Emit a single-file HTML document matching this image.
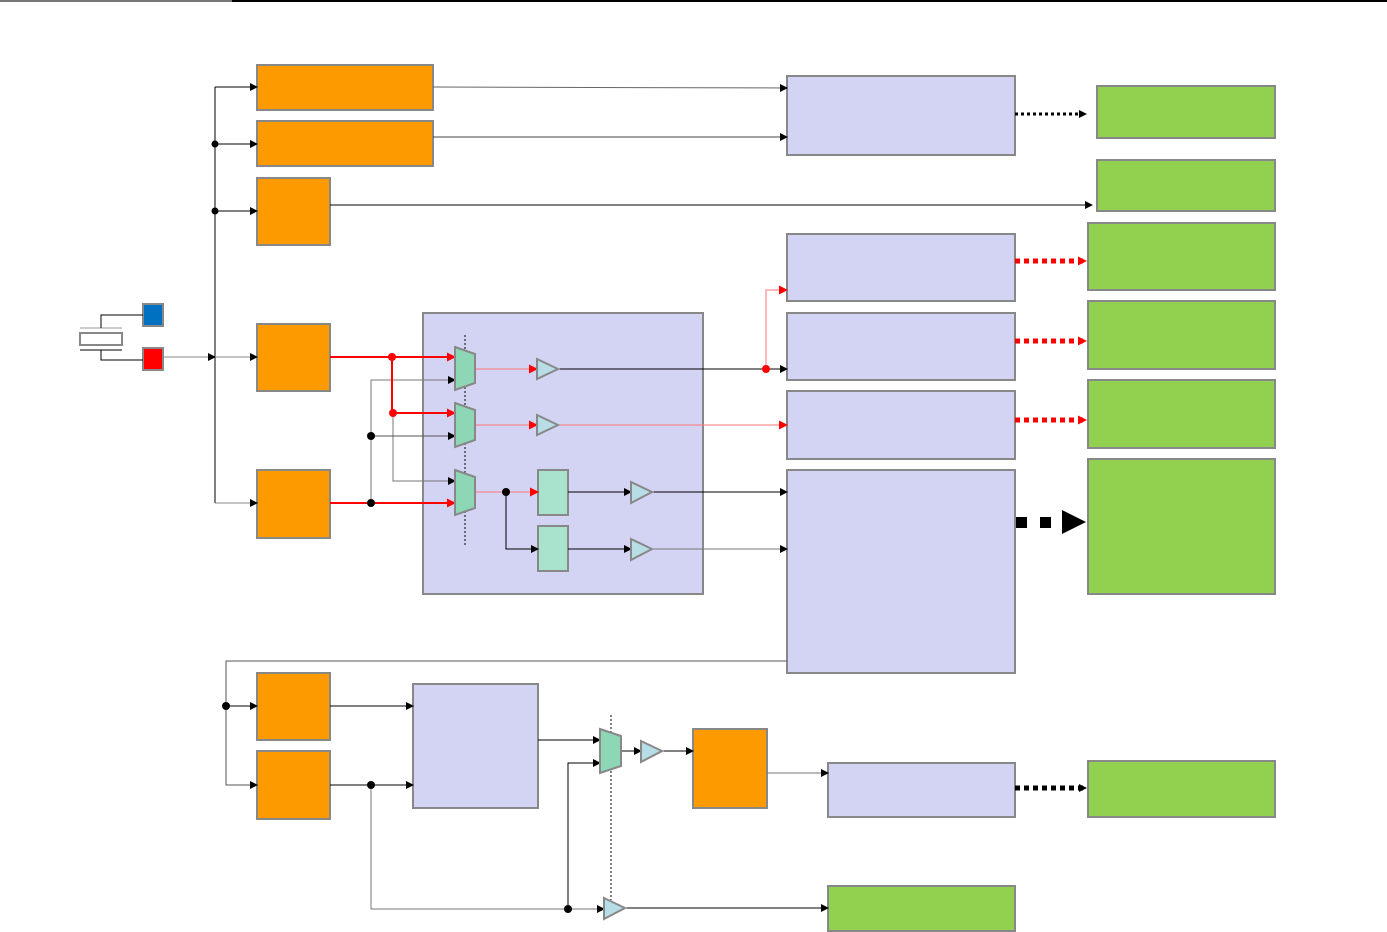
<!DOCTYPE html>
<html><head><style>body{margin:0;background:#fff}svg{display:block}</style></head><body>
<svg width="1387" height="932" viewBox="0 0 1387 932" xmlns="http://www.w3.org/2000/svg">
<defs>
<marker id="a" markerWidth="8" markerHeight="8" refX="7" refY="4" orient="auto" markerUnits="userSpaceOnUse"><path d="M0,0L8,4L0,8z" fill="#000"/></marker>
<marker id="r" markerWidth="9" markerHeight="9" refX="8" refY="4.5" orient="auto" markerUnits="userSpaceOnUse"><path d="M0,0L9,4.5L0,9z" fill="#f00"/></marker>
</defs>
<line x1="0" y1="1" x2="232" y2="1" stroke="#777" stroke-width="2"/>
<line x1="232" y1="1" x2="1387" y2="1" stroke="#000" stroke-width="2"/>
<g stroke="#888" stroke-width="2">
<g fill="#fd9a00">
<rect x="257" y="65" width="176" height="45"/><rect x="257" y="121" width="176" height="45"/>
<rect x="257" y="178" width="73" height="67"/><rect x="257" y="324" width="73" height="67"/>
<rect x="257" y="470" width="73" height="68"/><rect x="257" y="673" width="73" height="67"/>
<rect x="257" y="751" width="73" height="68"/><rect x="693" y="729" width="74" height="79"/>
</g>
<g fill="#d3d3f4">
<rect x="787" y="76" width="228" height="79"/><rect x="787" y="234" width="228" height="67"/>
<rect x="787" y="313" width="228" height="67"/><rect x="787" y="391" width="228" height="68"/>
<rect x="787" y="470" width="228" height="203"/><rect x="423" y="313" width="280" height="281"/>
<rect x="413" y="684" width="125" height="124"/><rect x="828" y="763" width="187" height="54"/>
</g>
<g fill="#92d050">
<rect x="1097" y="86" width="178" height="52"/><rect x="1097" y="160" width="178" height="51"/>
<rect x="1088" y="223" width="187" height="67"/><rect x="1088" y="301" width="187" height="68"/>
<rect x="1088" y="380" width="187" height="68"/><rect x="1088" y="459" width="187" height="135"/>
<rect x="1088" y="761" width="187" height="56"/><rect x="828" y="886" width="187" height="45"/>
</g>
<rect x="143" y="304" width="20" height="22" fill="#0070c0"/>
<rect x="143" y="348" width="20" height="22" fill="#f00"/>
<rect x="80" y="333" width="42" height="12" fill="#fff"/>
<rect x="538" y="470" width="30" height="45" fill="#a9e2cd"/><rect x="538" y="526" width="30" height="45" fill="#a9e2cd"/>
</g>
<g stroke="#000" stroke-width="1" fill="none">
<line x1="80" y1="328" x2="122" y2="328" stroke="#999"/><line x1="80" y1="350" x2="122" y2="350"/>
<path d="M101,328V315H143M101,350V360H143"/>
<line x1="465" y1="335" x2="465" y2="545" stroke-dasharray="2,2"/>
<line x1="611" y1="715" x2="611" y2="900" stroke-dasharray="2,2"/>
<line x1="163" y1="357" x2="215" y2="357" stroke="#888" marker-end="url(#a)"/>
<line x1="215" y1="87" x2="215" y2="503"/>
<line x1="215" y1="87" x2="257" y2="87" marker-end="url(#a)"/>
<line x1="215" y1="144" x2="257" y2="144" marker-end="url(#a)"/>
<line x1="215" y1="211" x2="257" y2="211" marker-end="url(#a)"/>
<line x1="215" y1="357" x2="257" y2="357" stroke="#888" marker-end="url(#a)"/>
<line x1="215" y1="503" x2="257" y2="503" stroke="#888" marker-end="url(#a)"/>
<line x1="433" y1="87" x2="787" y2="88" stroke="#666" marker-end="url(#a)"/>
<line x1="433" y1="137" x2="787" y2="137" stroke="#444" marker-end="url(#a)"/>
<line x1="330" y1="205" x2="1092" y2="205" marker-end="url(#a)"/>
<path d="M393,413V481H455" stroke="#777" marker-end="url(#a)"/>
<path d="M371,503V380H455" stroke="#777" marker-end="url(#a)"/>
<line x1="371" y1="436" x2="455" y2="436" stroke="#555" marker-end="url(#a)"/>
<line x1="558" y1="369" x2="787" y2="369" marker-end="url(#a)"/>
<path d="M506,492V549H538" marker-end="url(#a)"/>
<line x1="568" y1="492" x2="631" y2="492" marker-end="url(#a)"/>
<line x1="568" y1="549" x2="631" y2="549" marker-end="url(#a)"/>
<line x1="652" y1="492" x2="787" y2="492" marker-end="url(#a)"/>
<line x1="652" y1="549" x2="787" y2="549" stroke="#777" marker-end="url(#a)"/>
<path d="M787,661H226V785H257" stroke="#555" marker-end="url(#a)"/>
<line x1="226" y1="706" x2="257" y2="706" marker-end="url(#a)"/>
<line x1="330" y1="706" x2="413" y2="706" marker-end="url(#a)"/>
<line x1="330" y1="785" x2="413" y2="785" marker-end="url(#a)"/>
<path d="M371,785V909H604" stroke="#777" marker-end="url(#a)"/>
<path d="M568,909V763H600" marker-end="url(#a)"/>
<line x1="538" y1="740" x2="600" y2="740" marker-end="url(#a)"/>
<line x1="621" y1="751" x2="641" y2="751" marker-end="url(#a)"/>
<line x1="662" y1="751" x2="693" y2="751" marker-end="url(#a)"/>
<line x1="767" y1="773" x2="828" y2="773" stroke="#777" marker-end="url(#a)"/>
<line x1="625" y1="908" x2="828" y2="908" marker-end="url(#a)"/>
<line x1="1015" y1="114" x2="1086" y2="114" stroke-width="3" stroke-dasharray="3,3" marker-end="url(#a)"/>
<line x1="1015" y1="788" x2="1086" y2="788" stroke-width="5" stroke-dasharray="5,4" marker-end="url(#a)"/>
</g>
<g stroke="#f00" fill="none">
<path d="M330,357H455M392,357V413H455M330,503H455" stroke-width="2" marker-end="url(#r)"/>
<line x1="392" y1="357" x2="455" y2="357" stroke-width="2" marker-end="url(#r)"/>
<line x1="392" y1="413" x2="455" y2="413" stroke-width="2" marker-end="url(#r)"/>
<line x1="475" y1="369" x2="537" y2="369" stroke="#f77" marker-end="url(#r)"/>
<line x1="475" y1="425" x2="537" y2="425" stroke="#f77" marker-end="url(#r)"/>
<line x1="475" y1="492" x2="538" y2="492" stroke="#f77" marker-end="url(#r)"/>
<line x1="558" y1="425" x2="787" y2="425" stroke="#f77" marker-end="url(#r)"/>
<path d="M766,369V290H787" stroke="#f77" marker-end="url(#r)"/>
<line x1="1015" y1="261" x2="1086" y2="261" stroke-width="5" stroke-dasharray="5,4" marker-end="url(#r)"/>
<line x1="1015" y1="341" x2="1086" y2="341" stroke-width="5" stroke-dasharray="5,4" marker-end="url(#r)"/>
<line x1="1015" y1="420" x2="1086" y2="420" stroke-width="5" stroke-dasharray="5,4" marker-end="url(#r)"/>
</g>
<rect x="1016" y="517" width="11" height="11"/><rect x="1040" y="517" width="11" height="11"/>
<path d="M1062,510L1086,522L1062,534z"/>
<g fill="#000"><circle cx="215" cy="144" r="3.5"/><circle cx="215" cy="211" r="3.5"/>
<circle cx="371" cy="503" r="4"/><circle cx="371" cy="436" r="4"/><circle cx="506" cy="492" r="4"/>
<circle cx="226" cy="706" r="4"/><circle cx="371" cy="785" r="4"/><circle cx="568" cy="909" r="4"/></g>
<g fill="#f00"><circle cx="392" cy="357" r="4"/><circle cx="393" cy="413" r="4"/><circle cx="766" cy="369" r="4"/></g>
<g fill="#8dd7b6" stroke="#888" stroke-width="2">
<path d="M455,347L475,354V383L455,390z"/><path d="M455,403L475,410V440L455,447z"/>
<path d="M455,470L475,477V508L455,515z"/><path d="M600,729L621,736V766L600,773z"/>
</g>
<g fill="#b7dde6" stroke="#888" stroke-width="2">
<path d="M537,359L558,369L537,379z"/><path d="M537,415L558,425L537,435z"/>
<path d="M631,482L652,492L631,503z"/><path d="M631,539L652,549L631,560z"/>
<path d="M641,741L662,751L641,762z"/><path d="M604,898L625,908L604,919z"/>
</g>
</svg>
</body></html>
